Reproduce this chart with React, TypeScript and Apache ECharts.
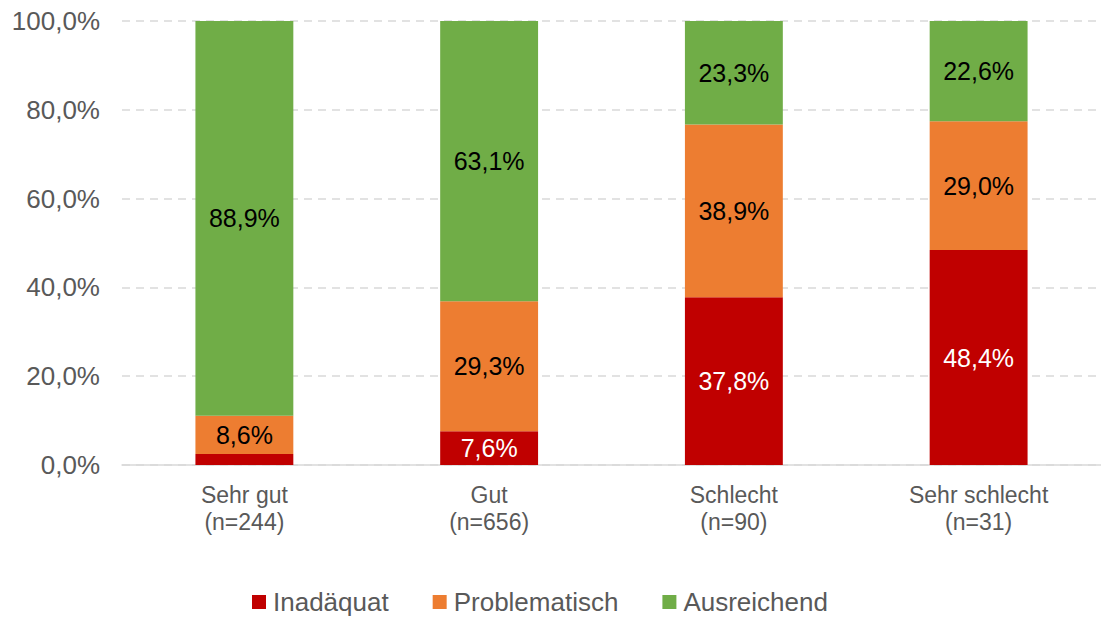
import React, { useEffect, useRef } from "react";
import * as echarts from "echarts";

const categories = ["Sehr gut\n(n=244)", "Gut\n(n=656)", "Schlecht\n(n=90)", "Sehr schlecht\n(n=31)"];
const inadaequat = [2.5, 7.6, 37.8, 48.4];
const problematisch = [8.6, 29.3, 38.9, 29.0];
const ausreichend = [88.9, 63.1, 23.3, 22.6];
const yTicks = [0, 20, 40, 60, 80, 100];

const fmt = (v: number) => v.toFixed(1).replace(".", ",") + "%";
const FONT = "Liberation Sans, Arial, sans-serif";

export default function App() {
  const ref = useRef<HTMLDivElement>(null);
  useEffect(() => {
    if (!ref.current) return;
    const chart = echarts.init(ref.current, undefined, { renderer: "svg" });
    const mk = (name: string, data: number[], color: string, labelColor: string) => ({
      name,
      type: "bar",
      stack: "s",
      data,
      barWidth: "40%",
      itemStyle: { color },
      label: {
        show: true,
        position: "inside",
        color: labelColor,
        fontSize: 25,
        fontFamily: FONT,
        formatter: (p: any) => (p.value < 5 ? "" : fmt(p.value)),
      },
    });
    chart.setOption({
      animation: false,
      textStyle: { fontFamily: FONT },
      grid: { left: 122, width: 984, top: 21, bottom: 153, containLabel: false },
      legend: {
        top: 587,
        left: 252,
        padding: 0,
        itemWidth: 14,
        itemHeight: 14,
        itemGap: 44,
        icon: "rect",
        textStyle: { fontSize: 26, lineHeight: 30, color: "#595959", fontFamily: FONT, padding: [0, 0, 0, 2] },
        data: ["Inadäquat", "Problematisch", "Ausreichend"],
      },
      xAxis: {
        type: "category",
        data: categories,
        axisLine: { lineStyle: { color: "#d9d9d9", width: 1.5 } },
        axisTick: { show: false },
        axisLabel: { color: "#595959", fontSize: 23, lineHeight: 27, margin: 16, fontFamily: FONT },
      },
      yAxis: {
        type: "value",
        min: 0,
        max: 100,
        interval: 20,
        axisLine: { show: false },
        axisTick: { show: false },
        axisLabel: {
          color: "#595959",
          fontSize: 26,
          margin: 22,
          fontFamily: FONT,
          formatter: (v: number) => (yTicks.includes(v) ? fmt(v) : ""),
        },
        splitLine: { lineStyle: { color: "#d9d9d9", type: [8, 6], width: 1.5 } },
      },
      series: [
        mk("Inadäquat", inadaequat, "#c00000", "#ffffff"),
        mk("Problematisch", problematisch, "#ed7d31", "#000000"),
        mk("Ausreichend", ausreichend, "#70ad47", "#000000"),
      ],
    });
    return () => chart.dispose();
  }, []);
  return <div ref={ref} style={{ width: 1101, height: 618, position: "absolute", left: 0, top: 0 }} />;
}
